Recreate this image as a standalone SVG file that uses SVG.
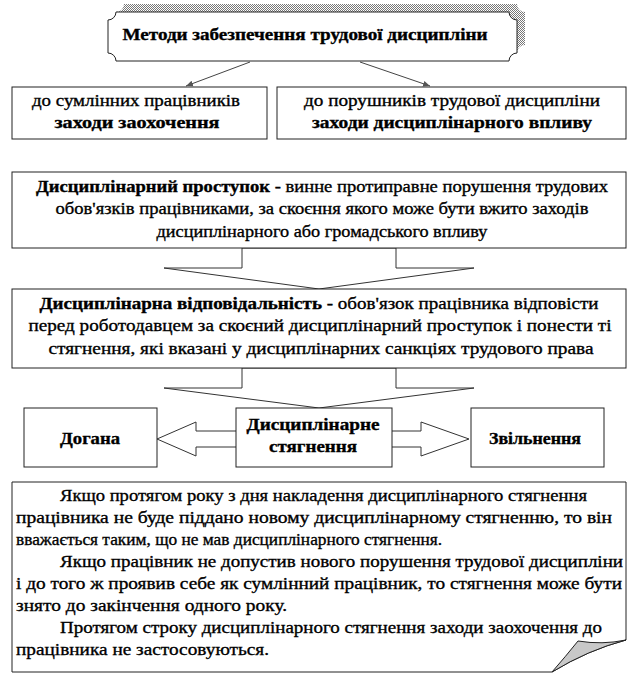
<svg xmlns="http://www.w3.org/2000/svg" width="636" height="696" viewBox="0 0 636 696" font-family="'Liberation Serif', 'Times New Roman', 'DejaVu Serif', serif">
<defs>
<pattern id="hatch" width="2" height="2" patternUnits="userSpaceOnUse">
<rect width="2" height="2" fill="#ffffff"/>
<rect width="1" height="1" fill="#777777"/>
<rect x="1" y="1" width="1" height="1" fill="#777777"/>
</pattern>
<marker id="ah" markerWidth="8" markerHeight="8" refX="7" refY="4" orient="auto" markerUnits="userSpaceOnUse">
<path d="M0,1 L7,4 L0,7 Z" fill="#555"/>
</marker>
<style>
.bx{fill:#fff;stroke:#222;stroke-width:1}
.t{font-family:'Liberation Serif','Times New Roman','DejaVu Serif',serif;font-size:17px;fill:#000;stroke:#000;stroke-width:0.35}
.b{font-weight:bold}
.c{text-anchor:middle}
.ln{stroke:#444;stroke-width:1;fill:none}
.ar{fill:#fff;stroke:#333;stroke-width:1}
</style>
</defs>
<rect width="636" height="696" fill="#fff"/>

<g id="connectors">
<line class="ln" x1="250" y1="62" x2="186" y2="86" marker-end="url(#ah)"/>
<line class="ln" x1="360" y1="62" x2="430" y2="86" marker-end="url(#ah)"/>
<polygon class="ar" points="242,248 396,248 396,268 474,268 319,289 164,268 242,268"/>
<polygon class="ar" points="242,368 396,368 396,388 474,388 319,408 164,388 242,388"/>
<polygon class="ar" points="157,439 196,422 196,431 240,431 240,447 196,447 196,456"/>
<polygon class="ar" points="388,431 421,431 421,422 469,439 421,456 421,447 388,447"/>
</g>

<g id="methods">
<path d="M124,4 H517 A8,8 0 0 0 525,12 V45 A8,8 0 0 0 517,53 H124 A8,8 0 0 0 116,45 V12 A8,8 0 0 0 124,4 Z" fill="url(#hatch)"/>
<path class="bx" d="M116,12 H509 A8,8 0 0 0 517,20 V53 A8,8 0 0 0 509,61 H116 A8,8 0 0 0 108,53 V20 A8,8 0 0 0 116,12 Z"/>
<text class="t b c" x="305" y="40" textLength="365" lengthAdjust="spacingAndGlyphs">Методи забезпечення трудової дисципліни</text>
</g>

<g id="encourage">
<rect class="bx" x="12" y="87" width="255" height="52"/>
<text class="t c" x="136" y="106" textLength="208" lengthAdjust="spacingAndGlyphs">до сумлінних працівників</text>
<text class="t b c" x="137" y="128" textLength="165" lengthAdjust="spacingAndGlyphs">заходи заохочення</text>
</g>

<g id="discipline">
<rect class="bx" x="277" y="87" width="349" height="52"/>
<text class="t c" x="452" y="106" textLength="296" lengthAdjust="spacingAndGlyphs">до порушників трудової дисципліни</text>
<text class="t b c" x="452" y="128" textLength="280" lengthAdjust="spacingAndGlyphs">заходи дисциплінарного впливу</text>
</g>

<g id="offense">
<rect class="bx" x="12" y="172" width="614" height="76"/>
<text class="t c" x="322" y="192" textLength="572" lengthAdjust="spacingAndGlyphs"><tspan class="b">Дисциплінарний проступок</tspan> - винне протиправне порушення трудових</text>
<text class="t c" x="322" y="214" textLength="533" lengthAdjust="spacingAndGlyphs">обов'язків працівниками, за скоєння якого може бути вжито заходів</text>
<text class="t c" x="322" y="237" textLength="331" lengthAdjust="spacingAndGlyphs">дисциплінарного або громадського впливу</text>
</g>

<g id="responsibility">
<rect class="bx" x="12" y="289" width="614" height="79"/>
<text class="t c" x="319" y="309" textLength="559" lengthAdjust="spacingAndGlyphs"><tspan class="b">Дисциплінарна відповідальність</tspan> - обов'язок працівника відповісти</text>
<text class="t c" x="320" y="331" textLength="583" lengthAdjust="spacingAndGlyphs">перед роботодавцем за скоєний дисциплінарний проступок і понести ті</text>
<text class="t c" x="321" y="354" textLength="545" lengthAdjust="spacingAndGlyphs">стягнення, які вказані у дисциплінарних санкціях трудового права</text>
</g>

<g id="reprimand">
<rect class="bx" x="24" y="408" width="133" height="59"/>
<text class="t b c" x="90" y="444" textLength="60" lengthAdjust="spacingAndGlyphs">Догана</text>
</g>

<g id="penalties">
<rect class="bx" x="236" y="408" width="156" height="59"/>
<text class="t b c" x="313" y="430" textLength="133" lengthAdjust="spacingAndGlyphs">Дисциплінарне</text>
<text class="t b c" x="313" y="452" textLength="88" lengthAdjust="spacingAndGlyphs">стягнення</text>
</g>

<g id="dismissal">
<rect class="bx" x="471" y="408" width="133" height="59"/>
<text class="t b c" x="535" y="444" textLength="92" lengthAdjust="spacingAndGlyphs">Звільнення</text>
</g>

<g id="note">
<path class="bx" d="M12,482 H626 V640 Q588,650 552,672 H12 Z"/>
<path d="M552,672 Q566,656 578,641 Q602,645 626,640 Q588,650 552,672 Z" fill="#c8c8c8" stroke="#222" stroke-width="1"/>
<text class="t" x="60" y="501" textLength="527" lengthAdjust="spacingAndGlyphs">Якщо протягом року з дня накладення дисциплінарного стягнення</text>
<text class="t" x="16" y="523" textLength="596" lengthAdjust="spacingAndGlyphs">працівника не буде піддано новому дисциплінарному стягненню, то він</text>
<text class="t" x="16" y="545" textLength="426" lengthAdjust="spacingAndGlyphs">вважається таким, що не мав дисциплінарного стягнення.</text>
<text class="t" x="60" y="567" textLength="563" lengthAdjust="spacingAndGlyphs">Якщо працівник не допустив нового порушення трудової дисципліни</text>
<text class="t" x="16" y="589" textLength="606" lengthAdjust="spacingAndGlyphs">і до того ж проявив себе як сумлінний працівник, то стягнення може бути</text>
<text class="t" x="16" y="611" textLength="271" lengthAdjust="spacingAndGlyphs">знято до закінчення одного року.</text>
<text class="t" x="60" y="633" textLength="542" lengthAdjust="spacingAndGlyphs">Протягом строку дисциплінарного стягнення заходи заохочення до</text>
<text class="t" x="16" y="655" textLength="253" lengthAdjust="spacingAndGlyphs">працівника не застосовуються.</text>
</g>
</svg>
